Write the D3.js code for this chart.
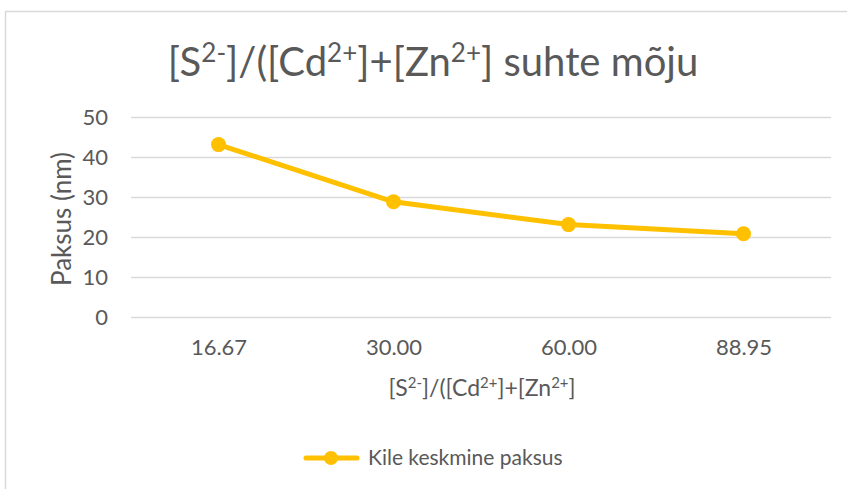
<!DOCTYPE html>
<html>
<head>
<meta charset="utf-8">
<script src="https://cdn.jsdelivr.net/npm/d3@7"></script>
<style>
  body { margin: 0; background: #fff; }
  svg text { font-family: Lato, "Open Sans", sans-serif; fill: #595959; }
</style>
</head>
<body>
<svg id="chart" width="847" height="489"></svg>
<script>
// data
const categories = ["16.67", "30.00", "60.00", "88.95"];
const thickness = [43.1, 28.8, 23.1, 20.8];
const yTicks = [0, 10, 20, 30, 40, 50];
const seriesName = "Kile keskmine paksus";

(function() {
    const svg = d3.select("#chart");
    const lineColor = "#FFC000";

    // chart frame (runs off the right and bottom edges)
    svg.append("rect")
        .attr("x", 5.5).attr("y", 11.5)
        .attr("width", 900).attr("height", 600)
        .attr("fill", "none")
        .attr("stroke", "#d9d9d9")
        .attr("stroke-width", 1.5);

    const x = d3.scalePoint()
        .domain(categories)
        .range([131, 831])
        .padding(0.5);

    const y = d3.scaleLinear()
        .domain([0, 50])
        .range([317, 117]);

    // gridlines + y labels
    const yAxis = svg.append("g")
        .attr("transform", "translate(131,0)")
        .call(d3.axisLeft(y).tickValues(yTicks).tickSize(-700).tickPadding(23))
        .call(g => g.select(".domain").remove());
    yAxis.selectAll(".tick line").attr("stroke", "#d9d9d9").attr("stroke-width", 1.5);
    yAxis.selectAll(".tick text")
        .style("font-size", "22px")
        .attr("fill", "#595959");

    // x labels
    const xAxis = svg.append("g")
        .attr("transform", "translate(0,317)")
        .call(d3.axisBottom(x).tickSize(0).tickPadding(22))
        .call(g => g.select(".domain").remove());
    xAxis.selectAll(".tick text")
        .style("font-size", "22px")
        .attr("fill", "#595959");

    // helper for text with superscripts: parts = [[text, isSup], ...]
    function richText(sel, parts, size) {
        parts.forEach(([t, sup], i) => {
            const prev = i > 0 && parts[i - 1][1];
            let dy = 0;
            if (sup && !prev) dy = -size * 0.35;
            if (!sup && prev) dy = size * 0.35;
            sel.append("tspan")
                .attr("dy", dy)
                .style("font-size", (sup ? size * 0.65 : size) + "px")
                .text(t);
        });
    }

    const ratioParts = [["[S", false], ["2-", true], ["]/([Cd", false], ["2+", true],
        ["]+[Zn", false], ["2+", true], ["]", false]];

    // title
    const title = svg.append("text")
        .attr("x", 433).attr("y", 76)
        .attr("text-anchor", "middle");
    richText(title, ratioParts.concat([[" suhte mõju", false]]), 40);

    // x axis title
    const xt = svg.append("text")
        .attr("x", 482).attr("y", 396)
        .attr("text-anchor", "middle");
    richText(xt, ratioParts, 23);

    // y axis title
    svg.append("text")
        .attr("transform", "translate(71,219) rotate(-90)")
        .attr("text-anchor", "middle")
        .style("font-size", "26px")
        .text("Paksus (nm)");

    // line + markers
    const pts = categories.map((c, i) => ({ c: c, v: thickness[i] }));
    svg.append("path")
        .datum(pts)
        .attr("fill", "none")
        .attr("stroke", lineColor)
        .attr("stroke-width", 5)
        .attr("stroke-linejoin", "round")
        .attr("stroke-linecap", "round")
        .attr("d", d3.line().x(d => x(d.c)).y(d => y(d.v)));

    svg.append("g")
        .selectAll("circle")
        .data(pts)
        .enter()
        .append("circle")
        .attr("cx", d => x(d.c))
        .attr("cy", d => y(d.v))
        .attr("r", 7.5)
        .attr("fill", lineColor);

    // legend
    const lg = svg.append("g").attr("transform", "translate(0,458)");
    lg.append("line")
        .attr("x1", 306).attr("x2", 357)
        .attr("stroke", lineColor).attr("stroke-width", 5)
        .attr("stroke-linecap", "round");
    lg.append("circle").attr("cx", 331).attr("r", 7).attr("fill", lineColor);
    lg.append("text")
        .attr("x", 368).attr("y", 7)
        .style("font-size", "21px")
        .text(seriesName);
})();
</script>
</body>
</html>
